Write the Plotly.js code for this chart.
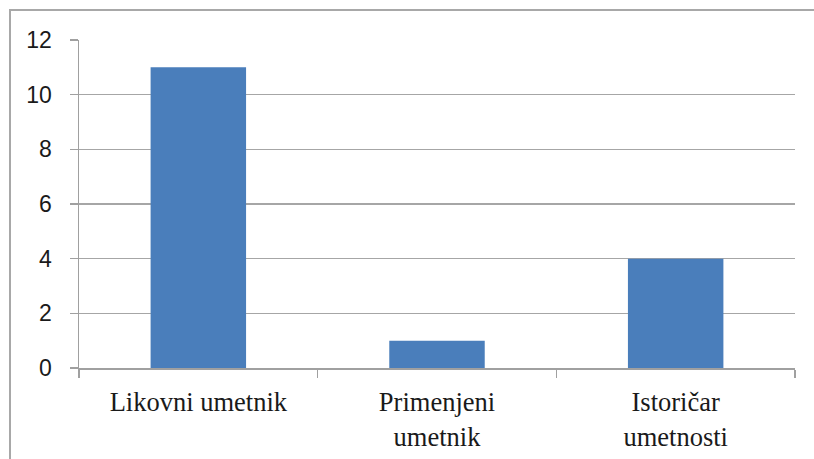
<!DOCTYPE html>
<html><head><meta charset="utf-8">
<script src="https://cdn.plot.ly/plotly-3.0.1.min.js"></script>
<style>
body{margin:0;padding:0;background:#fff;overflow:hidden}
#wrap{position:relative;width:814px;height:459px}
#chart{width:814px;height:459px}
#frame{position:absolute;left:9px;top:9px;width:900px;height:600px;border:2px solid #a8a8a8;pointer-events:none}
</style></head>
<body>
<div id="wrap"><div id="chart"></div><div id="frame"></div></div>
<script>
const categories = ["Likovni umetnik", "Primenjeni<br>umetnik", "Istoričar<br>umetnosti"];
const values = [11, 1, 4];
const yTicks = [0, 2, 4, 6, 8, 10, 12];

Plotly.newPlot('chart', [{
  type: 'bar',
  x: categories,
  y: values,
  marker: {color: '#4a7ebb'},
  hoverinfo: 'none'
}], {
  width: 814, height: 459,
  margin: {l: 79, r: 19, t: 40, b: 91},
  paper_bgcolor: '#fff', plot_bgcolor: '#fff',
  bargap: 0.6,
  showlegend: false,
  xaxis: {
    type: 'category',
    tickson: 'boundaries',
    ticks: 'outside', ticklen: 8, tickwidth: 1.5, tickcolor: '#a0a0a0',
    showline: true, linecolor: '#a0a0a0', linewidth: 1.5,
    showgrid: false,
    tickfont: {family: 'Liberation Serif', size: 26.5, color: '#1a1a1a'},
    ticklabelstandoff: 10
  },
  yaxis: {
    range: [0, 12],
    tickvals: yTicks,
    ticktext: yTicks.map(String),
    ticks: 'outside', ticklen: 8, tickwidth: 1.5, tickcolor: '#a0a0a0',
    showline: true, linecolor: '#a0a0a0', linewidth: 1.5,
    showgrid: true, gridcolor: '#a6a6a6', gridwidth: 1.5,
    zeroline: false,
    tickfont: {family: 'Liberation Sans', size: 23, color: '#1a1a1a'},
    ticklabelstandoff: 13
  }
}, {displayModeBar: false, staticPlot: true});
</script>
</body></html>
